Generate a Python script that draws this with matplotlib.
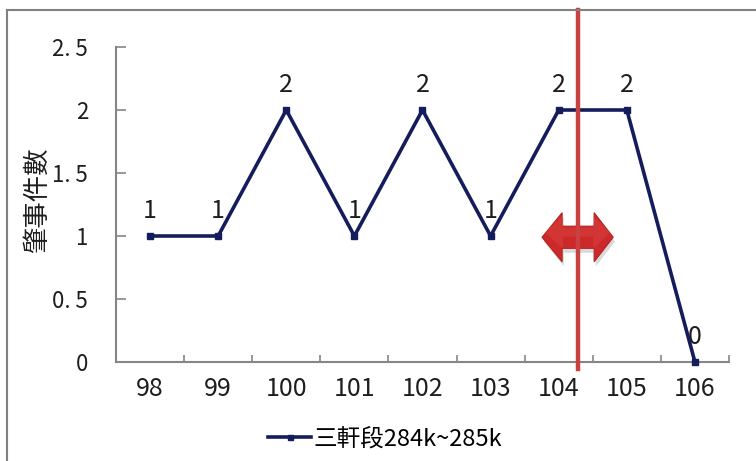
import matplotlib
matplotlib.use("Agg")
import matplotlib.pyplot as plt
from matplotlib.patches import Polygon
from matplotlib.lines import Line2D
from matplotlib import font_manager
import numpy as np

fams = ['Noto Sans CJK TC', 'DejaVu Sans']
plt.rcParams['font.family'] = fams

years = ['98', '99', '100', '101', '102', '103', '104', '105', '106']
counts = [1, 1, 2, 1, 2, 1, 2, 2, 0]
series_name = '三軒段284k~285k'
y_ticks = [0, 0.5, 1, 1.5, 2, 2.5]
y_tick_labels = ['0', '0. 5', '1', '1. 5', '2', '2. 5']
y_title = '肇事件數'

navy = '#141c5c'
gray = '#868686'
red_line = '#c8403f'
txt = '#1e1e1e'

fig = plt.figure(figsize=(7.56, 4.61), dpi=100)
ax = fig.add_axes([116 / 756, 1 - 362 / 461, 613 / 756, 315 / 461])

x = np.arange(len(years))
ax.plot(x, counts, color=navy, lw=2.6, marker='s', ms=4.5, mfc=navy, mec=navy,
        label=series_name, zorder=4, clip_on=False)

for xi, v in zip(x, counts):
    ax.annotate(str(v), (xi, v), xytext=(0, 25), textcoords='offset pixels',
                ha='center', va='center', fontsize=18, color=txt)

ax.set_xlim(-0.5, len(years) - 0.5)
ax.set_ylim(0, 2.5)

# category boundaries carry the tick marks, centres carry the labels
ax.set_xticks(np.arange(-0.5, len(years) + 0.5, 1))
ax.set_xticklabels([])
ax.set_xticks(x, minor=True)
ax.set_xticklabels(years, minor=True, fontsize=18, color=txt)
ax.tick_params(axis='x', which='major', direction='in', length=5, width=1.2, color=gray)
ax.tick_params(axis='x', which='minor', length=0, pad=10)

ax.set_yticks(y_ticks)
ax.set_yticklabels(y_tick_labels, fontsize=16, color=txt)
ax.tick_params(axis='y', direction='in', length=7, width=1.2, color=gray, pad=20)

for side in ['top', 'right']:
    ax.spines[side].set_visible(False)
for side in ['left', 'bottom']:
    ax.spines[side].set_color(gray)
    ax.spines[side].set_linewidth(1.5)

ax.set_ylabel(y_title, fontsize=19, color=txt)
ax.yaxis.set_label_coords(-0.106, 0.515)

# boundary marker
ax.axvline(6.28, ymin=-0.022, ymax=1.117, color=red_line, lw=3.2, clip_on=False, zorder=6)

# double-headed arrow with soft shadow
def arrow_pts(xl, xr, xhl, xhr, yc, hh, sh):
    return [(xl, yc), (xhl, yc + hh), (xhl, yc + sh), (xhr, yc + sh), (xhr, yc + hh),
            (xr, yc), (xhr, yc - hh), (xhr, yc - sh), (xhl, yc - sh), (xhl, yc - hh)]

pts = arrow_pts(5.755, 6.80, 6.05, 6.52, 0.99, 0.195, 0.088)
shadow = Polygon([(px + 0.025, py - 0.035) for px, py in pts], closed=True,
                 facecolor='#000000', alpha=0.15, edgecolor='none', zorder=4.5)
ax.add_patch(shadow)
ax.add_patch(Polygon(pts, closed=True, facecolor='#cc2a2a', edgecolor='#b52222',
                     lw=0.8, zorder=5))
top_half = arrow_pts(5.80, 6.76, 6.06, 6.51, 1.03, 0.13, 0.035)
ax.add_patch(Polygon(top_half, closed=True, facecolor='#dd4a48', edgecolor='none',
                     alpha=0.35, zorder=5.1))

leg = ax.legend(loc='center', bbox_to_anchor=(385 / 756, 1 - 439 / 461),
                bbox_transform=fig.transFigure, frameon=False,
                handlelength=1.8, handletextpad=0.1, markerscale=0.8,
                prop=font_manager.FontProperties(family=fams, size=17))

# outer chart frame
fig.add_artist(Line2D([7 / 756, 1.01], [1 - 10 / 461] * 2, transform=fig.transFigure,
                      color='#808080', lw=1.5))
fig.add_artist(Line2D([7 / 756] * 2, [1 - 10 / 461, -0.01], transform=fig.transFigure,
                      color='#808080', lw=1.5))

fig.savefig('out.png', dpi=100)
